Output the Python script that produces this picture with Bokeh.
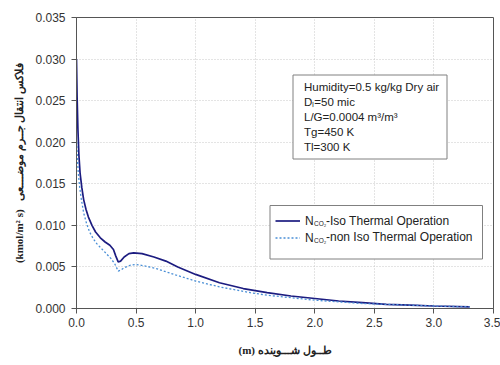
from bokeh.plotting import figure
from bokeh.models import (ColumnDataSource, FixedTicker, BoxAnnotation, Label,
                          Legend, LegendItem)
from bokeh.embed import file_html
from bokeh.resources import INLINE

# ---- data ----
iso_x = [0.000, 0.005, 0.012, 0.020, 0.030, 0.045, 0.060, 0.080, 0.10, 0.13,
         0.16, 0.20, 0.24, 0.28, 0.31, 0.33, 0.35, 0.37, 0.40, 0.44, 0.48,
         0.55, 0.65, 0.75, 0.85, 1.0, 1.2, 1.4, 1.6, 1.8, 2.0, 2.2, 2.4,
         2.6, 2.8, 3.0, 3.3]
iso_y = [0.0300, 0.0255, 0.0215, 0.0185, 0.0163, 0.0145, 0.0131, 0.0119,
         0.0110, 0.0100, 0.0092, 0.0085, 0.0080, 0.0076, 0.0071, 0.0063,
         0.0056, 0.0057, 0.0062, 0.0066, 0.0067, 0.0066, 0.0062, 0.0057,
         0.0050, 0.0041, 0.0031, 0.0024, 0.0019, 0.0015, 0.0012, 0.0009,
         0.0007, 0.0005, 0.0004, 0.0003, 0.0002]

noniso_x = [0.000, 0.008, 0.015, 0.025, 0.040, 0.060, 0.085, 0.11, 0.14,
            0.17, 0.21, 0.25, 0.29, 0.32, 0.35, 0.37, 0.40, 0.45, 0.50, 0.58,
            0.67, 0.84, 1.0, 1.2, 1.46, 1.6, 1.8, 2.0, 2.2, 2.4, 2.6, 2.8,
            3.0, 3.3]
noniso_y = [0.0205, 0.0180, 0.0163, 0.0148, 0.0132, 0.0115, 0.0102, 0.0092,
            0.0084, 0.0078, 0.0072, 0.0066, 0.0060, 0.0054, 0.0045, 0.0046,
            0.0049, 0.0052, 0.0053, 0.0051, 0.0048, 0.0040, 0.0033, 0.0026,
            0.0019, 0.0016, 0.0013, 0.0010, 0.0008, 0.0006, 0.0005, 0.0004,
            0.0003, 0.0002]

x_ticks = [0.0, 0.5, 1.0, 1.5, 2.0, 2.5, 3.0, 3.5]
x_tick_labels = ["0.0", "0.5", "1.0", "1.5", "2.0", "2.5", "3.0", "3.5"]
y_ticks = [0.000, 0.005, 0.010, 0.015, 0.020, 0.025, 0.030, 0.035]
y_tick_labels = ["0.000", "0.005", "0.010", "0.015", "0.020", "0.025",
                 "0.030", "0.035"]

info_lines = ["Humidity=0.5 kg/kg Dry air", "D\u2097=50 mic",
              "L/G=0.0004 m\u00b3/m\u00b3", "Tg=450 K", "Tl=300 K"]
legend_rest = ["-Iso Thermal Operation", "-non Iso Thermal Operation"]

# unit first so that, in a left-to-right line, it sits on the left as in the reference
x_label = ("(m) \u0637\u0640\u0640\u0648\u0644 "
           "\u0634\u0640\u0640\u0640\u0648\u06cc\u0646\u062f\u0647")
y_label = ("(kmol/m\u00b2 s)\u00a0\u00a0 \u0641\u0644\u0627\u06a9\u0633 "
           "\u0627\u0646\u062a\u0642\u0627\u0644 \u062c\u0640\u0640\u0631\u0645 "
           "\u0645\u0648\u0636\u0640\u0640\u0640\u0640\u0639\u06cc")

FONT = "Liberation Sans"

p = figure(width=500, height=365, output_backend="svg", toolbar_location=None,
           x_range=(0, 3.5), y_range=(0, 0.035),
           min_border_left=76, min_border_right=7, min_border_top=17,
           min_border_bottom=57)
p.background_fill_color = "white"
p.border_fill_color = "white"
p.outline_line_color = "#555555"
p.outline_line_width = 1

# grid
for g in (p.xgrid, p.ygrid):
    g.grid_line_color = "#c8c8c8"
    g.grid_line_dash = "1 2"
    g.grid_line_width = 1
p.xgrid.ticker = FixedTicker(ticks=x_ticks)
p.ygrid.ticker = FixedTicker(ticks=y_ticks)

# axes
p.xaxis.ticker = FixedTicker(ticks=x_ticks)
p.yaxis.ticker = FixedTicker(ticks=y_ticks)
p.xaxis.major_label_overrides = dict(zip(x_ticks, x_tick_labels))
p.yaxis.major_label_overrides = dict(zip(y_ticks, y_tick_labels))
for ax in (p.xaxis[0], p.yaxis[0]):
    ax.axis_line_color = "#555555"
    ax.major_tick_line_color = "#555555"
    ax.major_tick_out = 5
    ax.major_tick_in = 0
    ax.minor_tick_line_color = None
    ax.major_label_text_font = FONT
    ax.major_label_text_font_size = "12px"
    ax.major_label_text_color = "#333333"
    ax.axis_label_text_font = "Liberation Serif"
    ax.axis_label_text_font_style = "bold"
    ax.axis_label_text_font_size = "11px"
    ax.axis_label_text_color = "#222222"
p.xaxis.major_label_standoff = 4
p.yaxis.major_label_standoff = 6
p.xaxis.axis_label = x_label
p.yaxis.axis_label = y_label
p.xaxis.axis_label_standoff = 14
p.yaxis.axis_label_standoff = 7

src_iso = ColumnDataSource(dict(x=iso_x, y=iso_y))
src_non = ColumnDataSource(dict(x=noniso_x, y=noniso_y))
r_iso = p.line("x", "y", source=src_iso, line_color="#1c1c80", line_width=1.7)
r_non = p.line("x", "y", source=src_non, line_color="#4a8fd6", line_width=1.3,
               line_dash="2 2")

# helpers: convert reference screen position to data space for annotations
XPX = 417 / 3.5
YPX = 291 / 0.035
def dx(sx):
    return (sx - 76) / XPX
def dy(sy):
    return (308 - sy) / YPX

# info box
p.add_layout(BoxAnnotation(left=dx(292.5), right=dx(446.5), top=dy(74.5),
                           bottom=dy(158.5), fill_color="white", fill_alpha=1,
                           line_color="#808080", line_alpha=1, line_width=1))
for i, t in enumerate(info_lines):
    p.add_layout(Label(x=dx(303.5), y=dy(86.7 + 15 * i), text=t,
                       text_font=FONT, text_font_size="11.5px",
                       text_color="#222222", text_baseline="middle",
                       text_align="left"))

# legend box
p.add_layout(BoxAnnotation(left=dx(269.5), right=dx(482), top=dy(205),
                           bottom=dy(258.5), fill_color="white", fill_alpha=1,
                           line_color="#808080", line_alpha=1, line_width=1))
legend = Legend(items=[LegendItem(label="N", renderers=[r_iso]),
                       LegendItem(label="N", renderers=[r_non])],
                location=(199, 62), padding=0, margin=0, spacing=0,
                glyph_width=25, glyph_height=17, label_height=17,
                label_standoff=5, label_text_font=FONT,
                label_text_font_size="12px", label_text_color="#222222",
                border_line_alpha=0, background_fill_alpha=0)
p.add_layout(legend)
for i, t in enumerate(legend_rest):
    p.add_layout(Label(x=dx(313.5), y=dy(223 + 16.7 * i), text="CO\u2082",
                       text_font=FONT, text_font_size="6.5px",
                       text_color="#222222", text_baseline="middle",
                       text_align="left"))
    p.add_layout(Label(x=dx(325.5), y=dy(220 + 16.7 * i), text=t,
                       text_font=FONT, text_font_size="12px",
                       text_color="#222222", text_baseline="middle",
                       text_align="left"))

open("out.html", "w").write(file_html(p, INLINE))
